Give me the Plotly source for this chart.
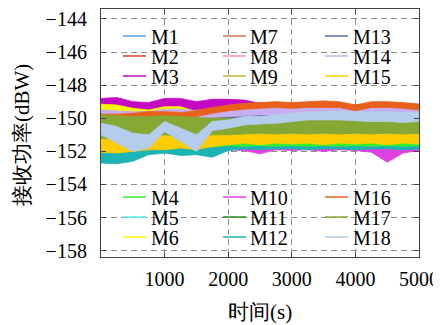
import plotly.graph_objects as go

t = [0, 250, 500, 750, 1000, 1250, 1500, 1750, 2000, 2250, 2500, 2750, 3000, 3250, 3500, 3750, 4000, 4250, 4500, 4750, 5000]

names = ["M%d" % i for i in range(1, 19)]

M1_hi = [-150.2,-150.3,-150.4,-150.3,-150.2,-150.3,-150.3,-150.2,-150.3,-150.2,-150.3,-150.2,-150.3,-150.2,-150.2,-150.3,-150.2,-150.3,-150.2,-150.3,-150.2]
M1_lo = [-150.8,-150.9,-151.0,-150.9,-150.8,-150.9,-150.9,-150.8,-150.8,-150.8,-150.9,-150.8,-150.8,-150.8,-150.7,-150.8,-150.8,-150.8,-150.7,-150.8,-150.8]
M2_hi = [-149.5,-149.5,-149.6,-149.5,-149.5,-149.5,-149.4,-149.3,-149.2,-149.15,-149.1,-149.1,-149.1,-149.15,-149.1,-149.1,-149.2,-149.1,-149.1,-149.1,-149.15]
M2_lo = [-149.85,-149.85,-149.95,-149.85,-149.85,-149.85,-149.75,-149.65,-149.55,-149.5,-149.45,-149.45,-149.45,-149.5,-149.45,-149.45,-149.55,-149.45,-149.45,-149.45,-149.5]
M3_hi = [-148.8,-148.75,-149.0,-149.05,-148.8,-148.8,-149.0,-148.85,-148.85,-148.9,-149.1,-149.25,-149.2,-149.25,-149.2,-149.25,-149.3,-149.25,-149.2,-149.25,-149.3]
M3_lo = [-149.5,-149.55,-149.6,-149.6,-149.55,-149.5,-149.6,-149.55,-149.5,-149.5,-149.5,-149.55,-149.5,-149.55,-149.5,-149.55,-149.6,-149.55,-149.5,-149.55,-149.6]
M4_hi = [-151.4,-151.4,-151.4,-151.3,-151.3,-151.3,-151.3,-151.3,-151.2,-151.2,-151.2,-151.2,-151.2,-151.2,-151.2,-151.2,-151.2,-151.2,-151.2,-151.2,-151.2]
M4_lo = [-151.9,-151.9,-151.9,-151.8,-151.8,-151.8,-151.8,-151.8,-151.9,-151.8,-151.9,-151.8,-151.9,-151.8,-151.85,-151.9,-151.8,-151.9,-151.8,-151.85,-151.8]
M5_hi = [-150.9,-151.0,-150.9,-151.0,-150.9,-150.9,-151.0,-150.9,-150.9,-150.8,-150.9,-150.8,-150.9,-150.8,-150.9,-150.8,-150.9,-150.8,-150.9,-150.8,-150.9]
M5_lo = [-151.5,-151.6,-151.5,-151.5,-151.4,-151.5,-151.5,-151.4,-151.4,-151.4,-151.5,-151.4,-151.4,-151.4,-151.5,-151.4,-151.4,-151.4,-151.5,-151.4,-151.4]
M6_hi = [-149.15,-149.2,-149.4,-149.5,-149.3,-149.3,-149.6,-150.2,-150.3,-150.3,-150.2,-150.3,-150.3,-150.2,-150.3,-150.3,-150.2,-150.3,-150.3,-150.2,-150.3]
M6_lo = [-150.1,-150.0,-149.9,-149.9,-149.75,-149.7,-149.9,-150.8,-150.9,-150.9,-150.8,-150.9,-150.9,-150.8,-150.9,-150.9,-150.8,-150.9,-150.9,-150.8,-150.9]
M7_hi = [-149.6,-149.6,-149.65,-149.6,-149.6,-149.6,-149.5,-149.4,-149.3,-149.2,-149.2,-149.15,-149.2,-149.2,-149.15,-149.2,-149.3,-149.2,-149.15,-149.2,-149.25]
M7_lo = [-149.95,-149.95,-150.0,-149.95,-149.95,-149.95,-149.85,-149.75,-149.6,-149.55,-149.55,-149.5,-149.55,-149.55,-149.5,-149.55,-149.65,-149.55,-149.5,-149.55,-149.6]
M8_hi = [-149.7,-149.75,-149.8,-149.75,-149.7,-149.7,-149.75,-149.7,-149.65,-149.6,-149.6,-149.6,-149.55,-149.6,-149.55,-149.6,-149.6,-149.55,-149.6,-149.6,-149.6]
M8_lo = [-150.1,-150.15,-150.2,-150.15,-150.1,-150.1,-150.15,-150.1,-150.05,-150.0,-150.0,-150.0,-149.95,-150.0,-149.95,-150.0,-150.0,-149.95,-150.0,-150.0,-150.0]
M9_hi = [-150.4,-150.5,-150.5,-150.4,-150.4,-150.5,-150.4,-150.4,-150.4,-150.4,-150.5,-150.4,-150.4,-150.4,-150.5,-150.4,-150.4,-150.4,-150.5,-150.4,-150.4]
M9_lo = [-151.0,-151.1,-151.1,-151.0,-151.0,-151.1,-151.0,-151.0,-151.0,-150.9,-151.0,-150.9,-151.0,-150.9,-151.0,-150.9,-151.0,-150.9,-151.0,-150.9,-151.0]
M10_hi = [-151.8,-151.8,-151.85,-151.8,-151.8,-151.8,-151.8,-151.8,-151.75,-151.8,-151.8,-151.75,-151.8,-151.75,-151.8,-151.75,-151.8,-151.75,-151.8,-151.8,-151.75]
M10_lo = [-151.9,-151.95,-152.0,-151.9,-151.9,-151.95,-151.9,-151.95,-151.9,-151.95,-152.15,-151.9,-151.95,-151.9,-152.0,-151.9,-151.95,-152.05,-152.65,-152.1,-151.95]
M11_hi = [-149.6,-149.6,-149.65,-149.6,-149.6,-149.6,-149.55,-149.5,-149.35,-149.3,-149.3,-149.3,-149.25,-149.3,-149.3,-149.25,-149.35,-149.3,-149.3,-149.25,-149.3]
M11_lo = [-149.9,-149.9,-149.95,-149.9,-149.9,-149.9,-149.85,-149.8,-149.65,-149.6,-149.6,-149.6,-149.55,-149.6,-149.6,-149.55,-149.65,-149.6,-149.6,-149.55,-149.6]
M12_hi = [-152.0,-152.05,-152.0,-151.65,-151.6,-151.7,-151.6,-151.8,-151.7,-151.75,-151.7,-151.75,-151.7,-151.75,-151.7,-151.75,-151.7,-151.75,-151.7,-151.75,-151.7]
M12_lo = [-152.7,-152.75,-152.6,-152.2,-152.1,-152.25,-152.2,-152.35,-151.95,-151.85,-151.9,-151.85,-151.85,-151.9,-151.85,-151.85,-151.9,-151.85,-151.85,-151.9,-151.85]
M13_hi = [-149.7,-149.7,-149.75,-149.7,-149.65,-149.7,-149.7,-149.7,-149.7,-149.7,-149.65,-149.7,-149.7,-149.65,-149.7,-149.7,-149.65,-149.7,-149.7,-149.65,-149.7]
M13_lo = [-150.1,-150.1,-150.15,-150.1,-150.05,-150.1,-150.1,-150.1,-150.1,-150.1,-150.05,-150.1,-150.1,-150.05,-150.1,-150.1,-150.05,-150.1,-150.1,-150.05,-150.1]
M14_hi = [-149.5,-149.55,-149.6,-149.6,-149.45,-149.45,-149.55,-149.5,-149.4,-149.4,-149.35,-149.35,-149.35,-149.35,-149.3,-149.35,-149.4,-149.35,-149.3,-149.35,-149.4]
M14_lo = [-150.0,-150.0,-150.0,-150.0,-149.9,-149.9,-150.0,-149.95,-149.9,-149.85,-149.8,-149.8,-149.8,-149.75,-149.7,-149.75,-149.8,-149.75,-149.75,-149.8,-149.85]
M15_hi = [-151.0,-151.0,-151.1,-150.95,-151.0,-150.9,-151.0,-150.9,-150.8,-150.7,-150.8,-150.7,-150.8,-150.7,-150.75,-150.7,-150.8,-150.7,-150.75,-150.7,-150.8]
M15_lo = [-152.05,-152.1,-152.0,-151.9,-151.9,-151.8,-151.9,-151.7,-151.6,-151.5,-151.6,-151.5,-151.55,-151.5,-151.6,-151.5,-151.55,-151.5,-151.6,-151.5,-151.55]
M16_hi = [-149.75,-149.75,-149.7,-149.6,-149.6,-149.65,-149.55,-149.35,-149.2,-149.1,-149.05,-149.0,-149.05,-149.0,-148.95,-149.0,-149.2,-149.0,-149.0,-149.05,-149.15]
M16_lo = [-149.85,-149.9,-149.9,-149.95,-149.9,-149.95,-149.9,-149.7,-149.55,-149.45,-149.4,-149.35,-149.4,-149.35,-149.35,-149.35,-149.55,-149.35,-149.35,-149.4,-149.5]
M17_hi = [-149.8,-149.85,-149.9,-149.9,-149.85,-149.9,-149.95,-150.0,-150.0,-150.05,-150.0,-150.05,-150.0,-150.05,-150.0,-150.05,-150.0,-150.05,-150.0,-150.05,-150.0]
M17_lo = [-151.2,-151.3,-151.2,-151.2,-151.0,-151.1,-151.1,-151.0,-151.0,-150.95,-150.9,-150.95,-150.9,-150.95,-150.9,-150.95,-150.9,-150.95,-150.9,-150.95,-150.9]
M18_hi = [-150.3,-150.5,-150.9,-151.0,-150.2,-150.6,-151.0,-150.2,-150.1,-149.9,-149.9,-149.8,-149.7,-149.6,-149.6,-149.55,-149.6,-149.6,-149.6,-149.65,-149.65]
M18_lo = [-151.0,-151.5,-152.0,-151.8,-150.8,-151.4,-152.0,-150.75,-150.6,-150.4,-150.35,-150.3,-150.2,-150.1,-150.1,-150.1,-150.15,-150.2,-150.2,-150.25,-150.2]

highs = [M1_hi, M2_hi, M3_hi, M4_hi, M5_hi, M6_hi, M7_hi, M8_hi, M9_hi,
         M10_hi, M11_hi, M12_hi, M13_hi, M14_hi, M15_hi, M16_hi, M17_hi, M18_hi]
lows = [M1_lo, M2_lo, M3_lo, M4_lo, M5_lo, M6_lo, M7_lo, M8_lo, M9_lo,
        M10_lo, M11_lo, M12_lo, M13_lo, M14_lo, M15_lo, M16_lo, M17_lo, M18_lo]

colors = ["#56a9e1", "#e8332a", "#c408c4", "#33ee33", "#55f0f0", "#f5f500",
          "#c87a50", "#ff8fc0", "#b9b93a", "#e040e0", "#2b8f2b", "#1bb3b3",
          "#5c6aaa", "#c7aef0", "#ffcc00", "#e8601c", "#84a833", "#b4cdec"]

y_ticks = [-144, -146, -148, -150, -152, -154, -156, -158]
x_ticks = [1000, 2000, 3000, 4000, 5000]

FONT = "Liberation Serif"
# the page body adds an 8 px offset; lay out the figure so the plot lands where intended
OFF = 8
W, H = 441, 325
L, R, T, B = 101, 419, 9, 257   # plot area in window pixels

def px(x):
    return (x - L) / (R - L)

def py(y):
    return (B - y) / (B - T)

fig = go.Figure()
for name, hi, lo, c in zip(names, highs, lows, colors):
    fig.add_trace(go.Scatter(
        x=t + t[::-1], y=hi + lo[::-1], name=name, mode="lines",
        fill="toself", fillcolor=c, line=dict(color=c, width=0.8),
        hoverinfo="skip", showlegend=False))

shapes = []
annotations = []
for (y0, y1) in [(21, 90), (184, 249)]:
    shapes.append(dict(type="rect", xref="paper", yref="paper",
                       x0=px(107), x1=px(410), y0=py(y1), y1=py(y0),
                       fillcolor="white", line=dict(width=0), layer="below"))

top_order = [[0, 1, 2], [6, 7, 8], [12, 13, 14]]
bot_order = [[3, 4, 5], [9, 10, 11], [15, 16, 17]]
col_line = [(123, 146), (223, 246), (325, 348)]
col_text = [149, 248, 351]
for order, rows in [(top_order, [36, 56, 76]), (bot_order, [197, 217, 237])]:
    for ci, col in enumerate(order):
        for ri, idx in enumerate(col):
            yy = rows[ri]
            shapes.append(dict(type="line", xref="paper", yref="paper",
                               x0=px(col_line[ci][0]), x1=px(col_line[ci][1]),
                               y0=py(yy), y1=py(yy),
                               line=dict(color=colors[idx], width=1.5), layer="above"))
            annotations.append(dict(text=names[idx], xref="paper", yref="paper",
                                    x=px(col_text[ci]), y=py(yy + 1), xanchor="left",
                                    yanchor="middle", showarrow=False,
                                    font=dict(family=FONT, size=20)))

annotations.append(dict(text="时间(s)", xref="paper", yref="paper", x=0.5, y=py(312),
                        xanchor="center", yanchor="middle", showarrow=False,
                        font=dict(family=FONT, size=21)))
annotations.append(dict(text="接收功率(dBW)", xref="paper", yref="paper", x=px(22), y=py(135),
                        xanchor="center", yanchor="middle", showarrow=False, textangle=-90,
                        font=dict(family=FONT, size=21)))

axis_common = dict(showline=True, mirror="ticks", linecolor="#444", linewidth=1.2,
                   ticks="inside", ticklen=5, tickcolor="#444", tickwidth=1,
                   showgrid=True, gridcolor="#8c8c8c", gridwidth=1, griddash="6px,4px",
                   zeroline=False, ticklabeloverflow="allow",
                   tickfont=dict(family=FONT, size=20))

fig.update_layout(
    width=W, height=H,
    font=dict(family=FONT, color="black"),
    margin=dict(l=L - OFF, r=W - (R - OFF), t=T - OFF, b=H - (B - OFF), pad=0),
    paper_bgcolor="white", plot_bgcolor="white",
    showlegend=False,
    shapes=shapes, annotations=annotations,
    xaxis=dict(range=[0, 5000], tickvals=x_ticks, ticktext=[str(v) for v in x_ticks],
               ticklabelstandoff=4, **axis_common),
    yaxis=dict(range=[-158.38, -143.4], tickvals=y_ticks,
               ticktext=["\u2212" + str(-v) for v in y_ticks],
               ticklabelstandoff=9, **axis_common),
)

fig.write_html("out.html")
